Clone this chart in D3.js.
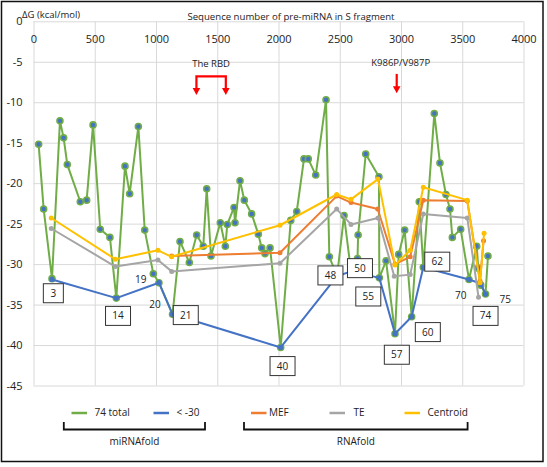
<!DOCTYPE html>
<html>
<head>
<meta charset="utf-8">
<script src="https://cdn.jsdelivr.net/npm/d3@7"></script>
<style>
  body { margin: 0; background: #fff; }
  svg text { font-family: "Open Sans", "Noto Sans", sans-serif; fill: #222; }
</style>
</head>
<body>
<div class="container_main"></div>
<script>
// ---- data ----
// miRNAfold, all pre-miRNAs
const seqTotal = [42, 83, 151, 216, 246, 276, 382, 434, 486, 545, 624, 676, 747, 785, 856, 908, 978, 1024,
  1135, 1196, 1272, 1332, 1386, 1414, 1449, 1525, 1566, 1582, 1637, 1645, 1686, 1721, 1781, 1835, 1863, 1890, 1931,
  2018, 2100, 2149, 2208, 2243, 2304, 2388, 2415, 2478, 2535, 2592, 2645, 2650, 2712, 2820, 2823, 2878, 2951,
  2981, 3030, 3087, 3149, 3182, 3272, 3318, 3367, 3400, 3419, 3487, 3555, 3618, 3631, 3651, 3690, 3710];
const dgTotal = [-15.2, -23.2, -31.8, -12.3, -14.4, -17.7, -22.3, -22.1, -12.8, -25.7, -26.7, -34.2, -17.9, -21.3, -13.0, -25.8, -31.2, -32.3,
  -36.2, -27.2, -29.8, -26.4, -27.8, -20.7, -29.0, -24.9, -27.8, -25.1, -23.0, -24.9, -19.7, -22.1, -23.8, -26.3, -28.0, -28.7, -28.0,
  -40.3, -24.6, -23.5, -17.0, -17.0, -19.0, -9.7, -29.1, -31.5, -24.0, -30.9, -29.3, -26.4, -16.4, -19.2, -31.7, -29.6, -38.6,
  -28.8, -25.8, -36.5, -22.3, -30.4, -11.4, -17.5, -21.4, -23.2, -26.7, -25.7, -31.9, -27.8, -30.5, -32.6, -33.7, -29.0];

// miRNAfold, below -30
const seqLow = [151, 676, 1024, 1135, 2018, 2478, 2592, 2823, 2951, 3087, 3182, 3555, 3651, 3690];
const dgLow = [-31.9, -34.2, -32.3, -36.2, -40.3, -31.5, -30.9, -31.7, -38.6, -36.5, -30.4, -31.9, -32.4, -33.7];

// RNAfold
const seqMEF = [1128, 2012, 2475, 2592, 2810, 2951, 3075, 3182, 3541, 3645, 3674];
const dgMEF = [-29.0, -28.6, -21.6, -22.4, -23.2, -30.0, -29.1, -22.1, -22.2, -32.1, -27.1];
const seqTE = [145, 668, 1016, 1128, 2012, 2475, 2592, 2812, 2945, 3075, 3182, 3541, 3633];
const dgTE = [-25.6, -30.3, -29.5, -30.9, -29.9, -23.2, -25.1, -24.3, -31.5, -31.3, -23.8, -24.3, -34.1];
const seqCentroid = [145, 668, 1016, 1128, 2012, 2475, 2592, 2812, 2951, 3075, 3182, 3541, 3645, 3678];
const dgCentroid = [-24.3, -29.4, -28.3, -29.1, -25.2, -21.4, -22.0, -19.5, -30.1, -28.3, -20.5, -22.1, -32.3, -26.2];

// numbered labels (anchored in data units)
const boxText = ["3", "14", "21", "40", "48", "50", "55", "57", "60", "62", "74"];
const boxSeq = [162, 690, 1243, 2033, 2424, 2665, 2733, 2966, 3219, 3296, 3690];
const boxDG = [-33.6, -36.4, -36.3, -42.6, -31.4, -30.5, -34.0, -41.2, -38.4, -29.7, -36.4];
const plainText = ["19", "20", "70", "75"];
const plainSeq = [875, 992, 3488, 3851];
const plainDG = [-31.9, -35.0, -33.9, -34.4];

const xTicks = [0, 500, 1000, 1500, 2000, 2500, 3000, 3500, 4000];
const yTicks = [0, -5, -10, -15, -20, -25, -30, -35, -40, -45];

const seriesNames = ["74 total", "< -30", "MEF", "TE", "Centroid"];
const seriesColors = ["#70ad47", "#4472c4", "#ed7d31", "#a5a5a5", "#ffc000"];

// ---- build the SVG ----
const svgwidth = 547, svgheight = 467;
const svg = d3.select(".container_main").append("svg")
  .attr("width", svgwidth).attr("height", svgheight);

// outer frame
svg.append("rect").attr("x", 1.5).attr("y", 1.5).attr("width", 541.5).attr("height", 460)
  .attr("fill", "none").attr("stroke", "#111").attr("stroke-width", 1.5);

const posX = d3.scaleLinear().domain([0, 4000]).range([33.5, 523.5]);
const posY = d3.scaleLinear().domain([0, -45]).range([21.3, 385.5]);

// gridlines
svg.append("g")
  .attr("transform", "translate(0," + posY(-45) + ")")
  .call(d3.axisBottom(posX).tickValues(xTicks).tickSize(-(posY(-45) - posY(0))).tickFormat(""))
  .call(g => g.select(".domain").remove())
  .call(g => g.selectAll("line").attr("stroke", "#d9d9d9"));
svg.append("g")
  .attr("transform", "translate(" + posX(0) + ",0)")
  .call(d3.axisLeft(posY).tickValues(yTicks).tickSize(-(posX(4000) - posX(0))).tickFormat(""))
  .call(g => g.select(".domain").remove())
  .call(g => g.selectAll("line").attr("stroke", "#d9d9d9"));

// tick labels: x along the top inside the plot, y on the left
svg.append("g")
  .attr("transform", "translate(0," + posY(0) + ")")
  .call(d3.axisBottom(posX).tickValues(xTicks).tickSize(0).tickPadding(13.5).tickFormat(d => d))
  .call(g => g.select(".domain").remove())
  .call(g => g.selectAll("text").attr("font-size", 11).attr("fill", "#333").attr("font-family", "Open Sans"));
svg.append("g")
  .attr("transform", "translate(" + posX(0) + ",0)")
  .call(d3.axisLeft(posY).tickValues(yTicks).tickSize(0).tickPadding(11).tickFormat(d => d))
  .call(g => g.select(".domain").remove())
  .call(g => g.selectAll("text").attr("font-size", 11).attr("fill", "#333").attr("font-family", "Open Sans"));

svg.append("text").attr("x", 22).attr("y", 18).attr("font-size", 9.5).text("ΔG (kcal/mol)");
svg.append("text").attr("x", 291).attr("y", 19.5).attr("text-anchor", "middle")
  .attr("font-size", 9.6).text("Sequence number of pre-miRNA in S fragment");

// ---- series ----
const line = d3.line().x(d => posX(d[0])).y(d => posY(d[1]));
const drawSeries = function(xs, ys, color, width, markerR, markerFill, markerStroke) {
  const pts = xs.map((v, i) => [v, ys[i]]);
  svg.append("path").datum(pts).attr("d", line)
    .attr("fill", "none").attr("stroke", color).attr("stroke-width", width)
    .attr("stroke-linejoin", "round");
  svg.append("g").selectAll("circle").data(pts).enter().append("circle")
    .attr("cx", d => posX(d[0])).attr("cy", d => posY(d[1])).attr("r", markerR)
    .attr("fill", markerFill).attr("stroke", markerStroke).attr("stroke-width", markerStroke ? 1.6 : 0);
};
drawSeries(seqTotal, dgTotal, seriesColors[0], 2, 3, "#4472c4", seriesColors[0]);
drawSeries(seqLow, dgLow, seriesColors[1], 2, 2.6, seriesColors[1], null);
drawSeries(seqMEF, dgMEF, seriesColors[2], 2, 2.5, seriesColors[2], null);
drawSeries(seqTE, dgTE, seriesColors[3], 2, 2.5, seriesColors[3], null);
drawSeries(seqCentroid, dgCentroid, seriesColors[4], 2, 2.5, seriesColors[4], null);

// ---- labels ----
const boxes = svg.append("g").selectAll("g").data(boxText).enter().append("g")
  .attr("transform", (d, i) => "translate(" + posX(boxSeq[i]) + "," + posY(boxDG[i]) + ")");
boxes.append("rect")
  .attr("x", d => d.length > 1 ? -12.5 : -10).attr("y", -9.5)
  .attr("width", d => d.length > 1 ? 25 : 20).attr("height", 19)
  .attr("fill", "#fff").attr("stroke", "#333").attr("stroke-width", 1);
boxes.append("text").attr("text-anchor", "middle").attr("dy", "0.35em").attr("font-size", 10).text(d => d);

svg.append("g").selectAll("text").data(plainText).enter().append("text")
  .attr("x", (d, i) => posX(plainSeq[i])).attr("y", (d, i) => posY(plainDG[i]))
  .attr("text-anchor", "middle").attr("dy", "0.35em").attr("font-size", 10).text(d => d);

// ---- annotations (red arrows) ----
const red = "#ff0000";
const arrowHead = function(x, yTip) {
  svg.append("path")
    .attr("d", "M" + (x - 3.8) + "," + (yTip - 7) + " L" + (x + 3.8) + "," + (yTip - 7) + " L" + x + "," + yTip + " Z")
    .attr("fill", red);
};

const rbdLeft = 1330, rbdRight = 1570, mutSeq = 2965;
svg.append("text").attr("x", (posX(rbdLeft) + posX(rbdRight)) / 2).attr("y", 67).attr("text-anchor", "middle")
  .attr("font-size", 9.5).text("The RBD");
svg.append("path")
  .attr("d", "M" + posX(rbdLeft) + "," + (posY(-9.1) - 5) + " L" + posX(rbdLeft) + "," + posY(-6.8) +
    " L" + posX(rbdRight) + "," + posY(-6.8) + " L" + posX(rbdRight) + "," + (posY(-9.1) - 5))
  .attr("fill", "none").attr("stroke", red).attr("stroke-width", 2.2);
arrowHead(posX(rbdLeft), posY(-9.1));
arrowHead(posX(rbdRight), posY(-9.1));

svg.append("text").attr("x", posX(mutSeq) + 4).attr("y", 66).attr("text-anchor", "middle")
  .attr("font-size", 9.5).text("K986P/V987P");
svg.append("line").attr("x1", posX(mutSeq)).attr("x2", posX(mutSeq))
  .attr("y1", posY(-6.5)).attr("y2", posY(-8.9) - 5)
  .attr("stroke", red).attr("stroke-width", 2.2);
arrowHead(posX(mutSeq), posY(-8.9));

// ---- legend ----
const legendX = [71.5, 153.5, 251, 329.5, 404.5];
const leg = svg.append("g").selectAll("g").data(seriesNames).enter().append("g")
  .attr("transform", (d, i) => "translate(" + legendX[i] + ",412)");
leg.append("line").attr("x1", 0).attr("x2", 15.5).attr("y1", 1).attr("y2", 1)
  .attr("stroke", (d, i) => seriesColors[i]).attr("stroke-width", 2.5);
leg.append("text").attr("x", (d, i) => i === 3 ? 24 : 23 - (i === 2 ? 5 : 0)).attr("dy", "0.35em")
  .attr("font-size", 10).text(d => d);

// brackets
const brackets = [[63.8, 205, "miRNAfold"], [244, 467.6, "RNAfold"]];
brackets.forEach(function(b) {
  svg.append("path").attr("d", "M" + b[0] + ",422 L" + b[0] + ",429.5 L" + b[1] + ",429.5 L" + b[1] + ",422")
    .attr("fill", "none").attr("stroke", "#111").attr("stroke-width", 1.8);
  svg.append("text").attr("x", (b[0] + b[1]) / 2).attr("y", 441).attr("dy", "0.35em")
    .attr("text-anchor", "middle").attr("font-size", 10).text(b[2]);
});
</script>
</body>
</html>
